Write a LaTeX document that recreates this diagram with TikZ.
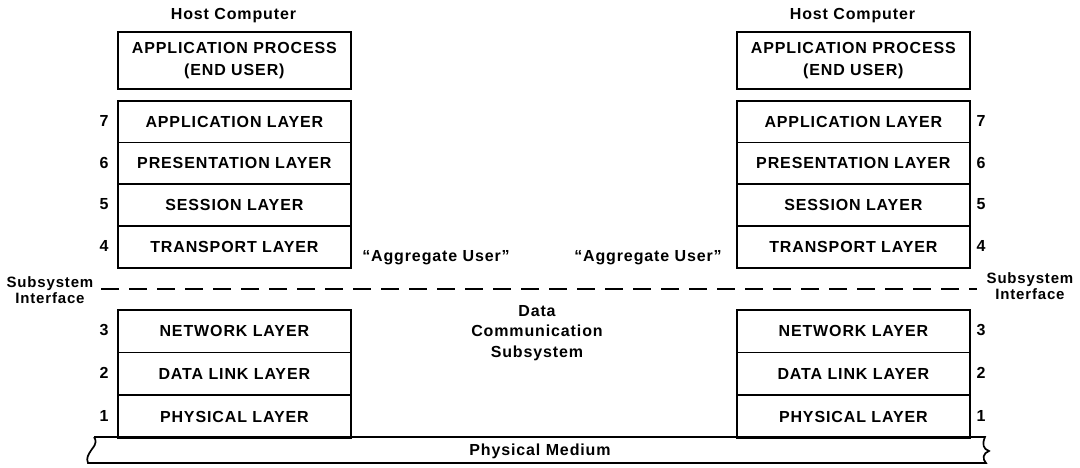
\documentclass[tikz,border=0pt]{standalone}
\usepackage{fontspec}
\setmainfont{Liberation Sans}[LetterSpace=5.5]
\newcommand{\labfont}{\fontsize{16}{22}\selectfont\bfseries}
\newcommand{\smallfont}{\fontsize{15}{21}\selectfont\bfseries}
\begin{document}
\begin{tikzpicture}[x=1pt,y=-1pt,
  thick line/.style={line width=1.7pt},
  layerbox/.style={draw, thick line, minimum width=233pt, minimum height=41.75pt,
    inner sep=0pt, anchor=north west, font=\labfont},
  procbox/.style={layerbox, minimum height=57pt, align=center},
  lowbox/.style={layerbox, minimum height=42.67pt},
  numlabel/.style={font=\labfont},
  plain/.style={font=\labfont, align=center}]
\useasboundingbox (0,0) rectangle (1080,468);

% ---- left host ----
\node[plain] (hostL) at (233.5,16) {Host Computer};
\node[procbox] (apL) at (117,31.5) {APPLICATION PROCESS\\(END USER)};
\node[layerbox] (l7L) at (117,100) {APPLICATION LAYER};
\node[layerbox] (l6L) at (117,141.75) {PRESENTATION LAYER};
\node[layerbox] (l5L) at (117,183.5) {SESSION LAYER};
\node[layerbox] (l4L) at (117,225.25) {TRANSPORT LAYER};
\node[lowbox] (l3L) at (117,309) {NETWORK LAYER};
\node[lowbox] (l2L) at (117,351.67) {DATA LINK LAYER};
\node[lowbox] (l1L) at (117,394.33) {PHYSICAL LAYER};
\node[numlabel] (n7L) at (104,121) {7};
\node[numlabel] (n6L) at (104,162.6) {6};
\node[numlabel] (n5L) at (104,204.4) {5};
\node[numlabel] (n4L) at (104,246) {4};
\node[numlabel] (n3L) at (104,330.3) {3};
\node[numlabel] (n2L) at (104,373) {2};
\node[numlabel] (n1L) at (104,415.7) {1};

% ---- right host ----
\node[plain] (hostR) at (852.5,16) {Host Computer};
\node[procbox] (apR) at (736,31.5) {APPLICATION PROCESS\\(END USER)};
\node[layerbox] (l7R) at (736,100) {APPLICATION LAYER};
\node[layerbox] (l6R) at (736,141.75) {PRESENTATION LAYER};
\node[layerbox] (l5R) at (736,183.5) {SESSION LAYER};
\node[layerbox] (l4R) at (736,225.25) {TRANSPORT LAYER};
\node[lowbox] (l3R) at (736,309) {NETWORK LAYER};
\node[lowbox] (l2R) at (736,351.67) {DATA LINK LAYER};
\node[lowbox] (l1R) at (736,394.33) {PHYSICAL LAYER};
\node[numlabel] (n7R) at (981,121) {7};
\node[numlabel] (n6R) at (981,162.6) {6};
\node[numlabel] (n5R) at (981,204.4) {5};
\node[numlabel] (n4R) at (981,246) {4};
\node[numlabel] (n3R) at (981,330.3) {3};
\node[numlabel] (n2R) at (981,373) {2};
\node[numlabel] (n1R) at (981,415.7) {1};

% ---- middle labels ----
\node[plain] (aggL) at (436,258) {``Aggregate User''};
\node[plain] (aggR) at (648,258) {``Aggregate User''};
\node[plain, font=\fontsize{16}{20.5}\selectfont\bfseries] (dcs) at (537,333) {Data\\Communication\\Subsystem};
\node[plain, font=\smallfont\fontsize{15}{16}\selectfont] (siL) at (50,290) {Subsystem\\Interface};
\node[plain, font=\smallfont\fontsize{15}{16}\selectfont] (siR) at (1030,286) {Subsystem\\Interface};

% ---- subsystem interface dashed line ----
\coordinate (dashA) at (101,289);
\coordinate (dashB) at (977,289);
\draw[line width=1.5pt, dash pattern=on 18pt off 10pt] (dashA) -- (dashB);

% ---- physical medium ----
\coordinate (mTL) at (94,437);
\coordinate (mTR) at (985,437);
\coordinate (mBR) at (986,463);
\coordinate (mBL) at (88,463);
\draw[thick line] (mTL) -- (mTR)
  .. controls (982,444) and (983,449) .. (989,451)
  .. controls (983,453) and (982,459) .. (mBR)
  -- (mBL)
  .. controls (86,458) and (88,455) .. (92,449)
  .. controls (97,443) and (96,440) .. (mTL);
\node[plain] (pm) at (540,451) {Physical Medium};
\end{tikzpicture}
\end{document}
